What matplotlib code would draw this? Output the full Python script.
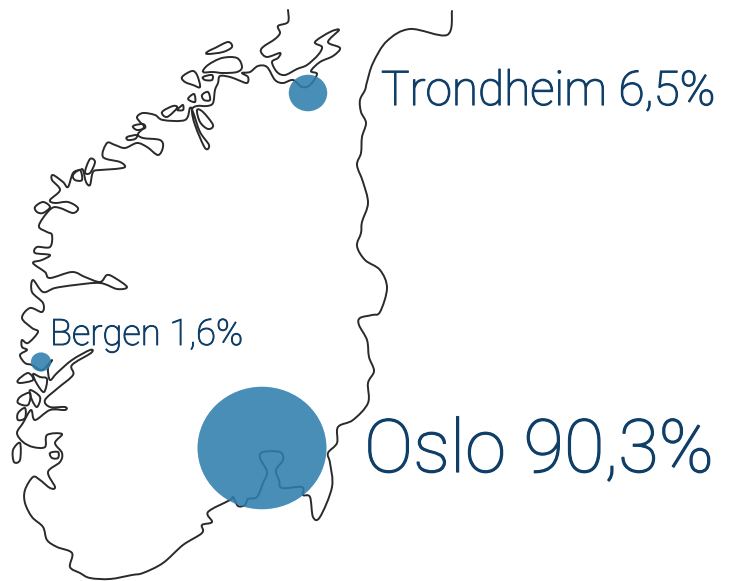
import matplotlib
matplotlib.use("Agg")
import matplotlib.pyplot as plt
from matplotlib.patches import Ellipse, PathPatch
from matplotlib.path import Path
import matplotlib.patheffects as pe

cities = ["Trondheim", "Bergen", "Oslo"]
shares = [6.5, 1.6, 90.3]
labels = ["Trondheim 6,5%", "Bergen 1,6%", "Oslo 90,3%"]
city_x = [308, 41, 262]
city_y = [93, 362, 448]

coast_xy = [
(288,10),(288,22),(278,26),(280,33),(275,39),(263,47),(261,52),(267,57),(280,53),(278,58),(272,62),(277,72),(285,75),
(297,69),(307,65),(318,55),(322,47),(315,42),(330,32),(339,30),(328,42),(340,48),(333,56),(320,62),(311,71),(317,74),
(310,85),(302,87),(293,80),(283,83),(275,80),(267,67),(258,66),(250,72),(242,73),(248,77),(247,83),(238,80),(230,77),
(220,76),(218,83),(215,90),(213,103),(207,106),(197,106),(192,110),(195,125),(205,148),(209,145),(200,132),(193,112),(190,108),
(185,120),(163,120),(155,115),(143,113),(137,117),(140,122),(144,127),(138,134),(143,138),(160,140),(163,147),(158,155),
(147,147),(137,143),(125,148),(115,145),(107,143),(103,157),(120,162),(125,167),(115,169),(100,170),(93,172),(90,185),
(86,182),(83,170),(80,170),(73,173),(68,187),(63,182),(53,175),(52,180),(60,190),(50,200),(55,203),(68,202),(78,208),
(73,213),(60,208),(52,208),(43,218),(39,227),(47,232),(52,235),(50,247),(37,247),(35,253),(50,255),(42,260),(33,263),
(45,272),(50,278),(72,272),(85,277),(100,282),(107,275),(115,278),(127,287),(117,289),(100,283),(75,285),(55,288),(43,292),
(33,280),(32,292),(43,303),(42,312),(30,308),(22,318),(32,328),(38,332),(28,343),(22,340),(22,347),(27,350),(20,355),
(25,363),(32,365),(42,370),(52,360),(48,368),(50,380),(57,373),(72,360),(90,350),(91,353),(72,365),(73,375),(58,388),
(45,400),(50,407),(65,407),(65,410),(50,410),(35,420),(31,410),(23,423),(17,433),(23,442),(33,447),(45,447),(47,435),
(62,434),(55,443),(62,453),(60,462),(48,472),(55,487),(50,488),(40,480),(33,477),(25,490),(25,503),(32,517),(43,527),
(47,540),(57,547),(72,553),(70,567),(80,573),(90,578),(110,579),(132,575),(143,573),(163,563),(183,545),(202,533),
(202,525),(212,522),(208,512),(230,500),(233,497),(238,506),(245,505),(248,499),(257,497),(263,483),(267,472),(260,458),
(263,452),(280,452),(283,460),(276,470),(279,480),(282,488),(302,487),(303,495),(310,497),(313,517),(320,517),(332,487),
(330,463),(328,453),(337,443),(338,427),(353,420),(368,403),(368,383),(374,371),(369,357),(367,340),(359,325),(360,318),
(372,315),(380,312),(387,288),(380,270),(365,260),(357,246),(361,233),(362,222),(368,203),(363,182),(357,165),(361,153),
(362,137),(366,123),(361,112),(360,100),(365,90),(367,82),(373,63),(387,41),(410,29),(447,35),(452,11),
]

islands = [
[(207,52),(215,48),(228,42),(232,47),(223,52),(208,54)],
[(203,72),(208,65),(222,58),(237,58),(242,67),(237,72),(223,73),(213,72)],
[(182,77),(192,71),(197,75),(200,87),(193,85),(185,82)],
[(203,77),(212,75),(212,80),(205,80)],
[(188,99),(194,94),(195,102)],
[(202,95),(208,92),(210,100),(204,100)],
[(177,110),(180,107),(183,105),(183,110)],
[(162,112),(173,106),(177,108),(167,117)],
[(197,110),(203,112),(213,125),(208,129),(200,122)],
[(133,126),(143,124),(145,128),(137,130)],
[(127,137),(137,135),(135,139),(128,140)],
[(35,207),(43,202),(50,207),(43,213),(37,212)],
[(73,175),(80,170),(82,180),(75,180)],
[(85,172),(90,159),(95,162),(90,173)],
[(18,380),(28,373),(33,380),(20,383)],
[(33,374),(40,377),(47,379),(44,392),(37,384)],
[(20,397),(30,393),(28,405),(18,403)],
[(18,413),(25,408),(25,418),(18,420)],
[(30,390),(40,397),(37,407),(32,400)],
[(13,450),(20,443),(20,460),(14,462)],
[(50,453),(58,452),(58,458),(52,458)],
]

BLUE = "#2f7eac"
TEXT = "#0f3f68"
LINE = "#2a2a2a"


def curve_path(pts, closed=False):
    """Bezier curve that runs through every traced vertex."""
    n = len(pts)
    at = (lambda i: pts[i % n]) if closed else (lambda i: pts[max(0, min(n - 1, i))])
    verts, codes = [pts[0]], [Path.MOVETO]
    for i in range(n if closed else n - 1):
        p0, p1, p2, p3 = at(i - 1), at(i), at(i + 1), at(i + 2)
        c1 = (p1[0] + (p2[0] - p0[0]) / 6, p1[1] + (p2[1] - p0[1]) / 6)
        c2 = (p2[0] - (p3[0] - p1[0]) / 6, p2[1] - (p3[1] - p1[1]) / 6)
        verts += [c1, c2, p2]
        codes += [Path.CURVE4] * 3
    return Path(verts, codes)


fig = plt.figure(figsize=(7.31, 5.81), dpi=100)
ax = fig.add_axes([0, 0, 1, 1])
ax.set_xlim(0, 731)
ax.set_ylim(581, 0)
ax.axis("off")

lw = 1.4
ax.add_patch(PathPatch(curve_path(coast_xy), fc="none", ec=LINE, lw=lw, zorder=1, capstyle="round", joinstyle="round"))
for isl in islands:
    ax.add_patch(PathPatch(curve_path(isl, closed=True), fc="none", ec=LINE, lw=lw, zorder=1))

max_share = max(shares)
for x, y, s in zip(city_x, city_y, shares):
    r = 64.5 * (s / max_share) ** 0.46
    ax.add_patch(Ellipse((x, y), 2 * r, 2 * r * 0.95, fc=BLUE, ec="none", alpha=0.88, zorder=2))

label_pos = [(381, 105), (50, 345), (364, 472)]
label_sizes = [34.4, 26.2, 53.2]
label_strokes = [0.9, 0.7, 0.9]
for t, (x, y), fs, st in zip(labels, label_pos, label_sizes, label_strokes):
    ax.text(x, y, t, color=TEXT, fontsize=fs, family="Roboto", fontweight="light", ha="left", va="baseline", zorder=3,
            path_effects=[pe.withStroke(linewidth=st, foreground=TEXT)])

fig.savefig("out.png", dpi=100)
